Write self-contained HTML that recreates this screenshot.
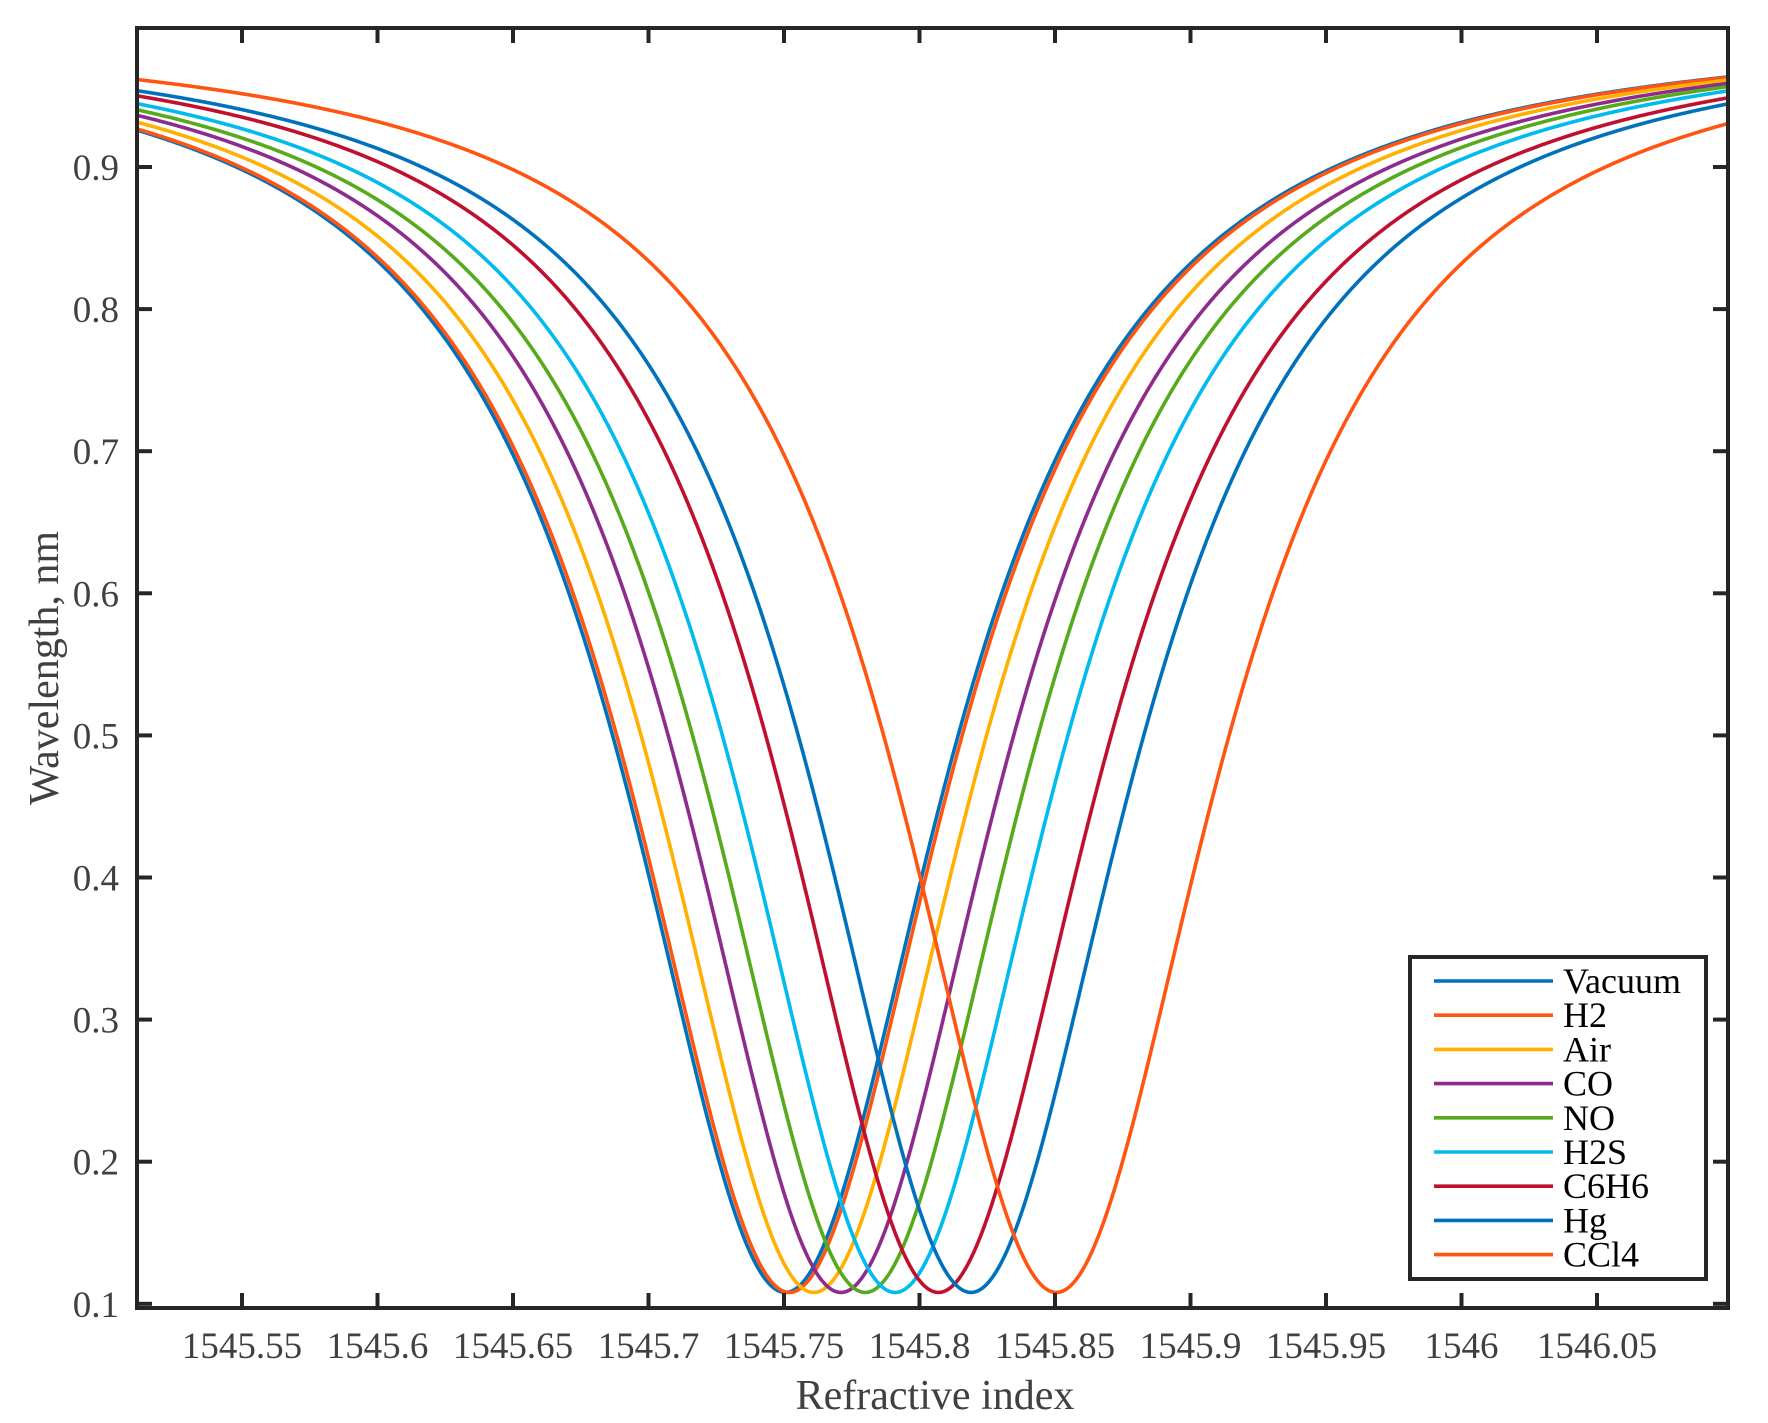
<!DOCTYPE html>
<html><head><meta charset="utf-8"><style>
html,body{margin:0;padding:0;background:#fff;}
svg{display:block;}
text{font-family:"Liberation Serif",serif;fill:#404040;}
</style></head><body>
<svg id="s" width="1768" height="1423" viewBox="0 0 1768 1423" xmlns="http://www.w3.org/2000/svg">
<defs><clipPath id="c"><rect x="137" y="28" width="1591" height="1280"/></clipPath></defs>
<g id="curves" clip-path="url(#c)" fill="none" stroke-width="3.6" stroke-linejoin="round"></g>
<rect x="137" y="28" width="1591" height="1280" fill="none" stroke="#262626" stroke-width="4"/>
<g id="ticks" stroke="#262626" stroke-width="4"></g>
<g id="labels" font-size="37"></g>
<text x="935" y="1409" font-size="42" text-anchor="middle">Refractive index</text>
<text x="0" y="0" font-size="42" text-anchor="middle" transform="translate(58,668) rotate(-90)">Wavelength, nm</text>
<rect x="1410" y="957" width="296" height="322" fill="#fff" stroke="#262626" stroke-width="4"/>
<g id="leg" font-size="36"></g>
</svg>
<script>
var NS="http://www.w3.org/2000/svg";
function X(v){return 242+(v-1545.55)*2710;}
function Y(v){return 167+(0.9-v)*1421;}
var series=[
["Vacuum","#0072BD",1545.7505],
["H2","#FF5511",1545.7520],
["Air","#FFB000",1545.7610],
["CO","#8E2C8E",1545.7710],
["NO","#56AA1C",1545.7800],
["H2S","#00BBEE",1545.7910],
["C6H6","#C0102F",1545.8070],
["Hg","#0072BD",1545.8190],
["CCl4","#FF5511",1545.8505]];
var g=document.getElementById("curves");
var w=0.072,D=0.892;
series.forEach(function(s){
  var d="";
  for(var px=130;px<=1735;px+=1){
    var x=1545.55+(px-242)/2710;
    var r=(x-s[2])/w;
    var y=1-D/(1+r*r);
    d+=(d?"L":"M")+px+","+Y(y).toFixed(2);
  }
  var p=document.createElementNS(NS,"path");
  p.setAttribute("d",d);p.setAttribute("stroke",s[1]);
  g.appendChild(p);
});
var t=document.getElementById("ticks"),L=document.getElementById("labels");
function line(x1,y1,x2,y2){var l=document.createElementNS(NS,"line");l.setAttribute("x1",x1);l.setAttribute("y1",y1);l.setAttribute("x2",x2);l.setAttribute("y2",y2);t.appendChild(l);}
function txt(x,y,s,a){var e=document.createElementNS(NS,"text");e.setAttribute("x",x);e.setAttribute("y",y);e.setAttribute("text-anchor",a);e.textContent=s;L.appendChild(e);}
var xl=["1545.55","1545.6","1545.65","1545.7","1545.75","1545.8","1545.85","1545.9","1545.95","1546","1546.05"];
xl.forEach(function(s,i){var v=1545.55+i*0.05;var x=X(v);line(x,1308,x,1293);line(x,28,x,43);txt(x,1358,s,"middle");});
for(var i=1;i<=9;i++){var v=i/10;var y=Y(v);line(137,y,152,y);line(1728,y,1713,y);txt(119,y+13,"0."+i,"end");}
var lg=document.getElementById("leg");
series.forEach(function(s,i){
  var y=981+i*34.2;
  var l=document.createElementNS(NS,"line");l.setAttribute("x1",1434);l.setAttribute("x2",1553);l.setAttribute("y1",y);l.setAttribute("y2",y);l.setAttribute("stroke",s[1]);l.setAttribute("stroke-width",3.6);lg.appendChild(l);
  var e=document.createElementNS(NS,"text");e.setAttribute("x",1563);e.setAttribute("y",y+12);e.setAttribute("style","fill:#000");e.textContent=s[0];lg.appendChild(e);
});
</script>
</body></html>
